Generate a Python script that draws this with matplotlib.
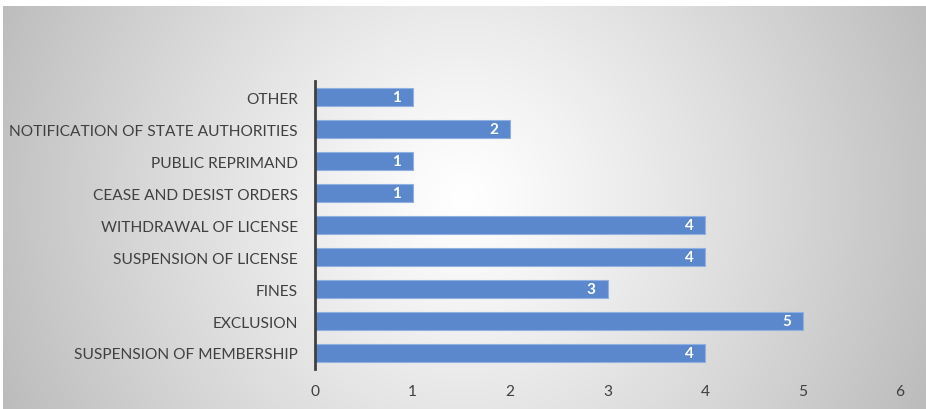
import numpy as np
import matplotlib
matplotlib.use("Agg")
import matplotlib.pyplot as plt

plt.rcParams['font.family'] = ['Lato', 'DejaVu Sans']

categories = [
    "SUSPENSION OF MEMBERSHIP",
    "EXCLUSION",
    "FINES",
    "SUSPENSION OF LICENSE",
    "WITHDRAWAL OF LICENSE",
    "CEASE AND DESIST ORDERS",
    "PUBLIC REPRIMAND",
    "NOTIFICATION OF STATE AUTHORITIES",
    "OTHER",
]
counts = [4, 5, 3, 4, 4, 1, 1, 2, 1]
x_ticks = [0, 1, 2, 3, 4, 5, 6]

W, H = 926, 410
fig = plt.figure(figsize=(W / 100, H / 100), dpi=100)
fig.patch.set_facecolor("white")

# Radial grey backdrop panel
bg = fig.add_axes([3 / W, 0, (W - 3) / W, (H - 7) / H])
bg.set_axis_off()
pw, ph = W - 3, H - 7
yy, xx = np.mgrid[0:ph, 0:pw]
r = np.sqrt((xx - 460) ** 2 + (yy - 190) ** 2) / 500.0
r = np.clip(r, 0, 1)
shade = 1.0 - 0.26 * r ** 1.15
img = np.dstack([shade, shade, shade])
bg.imshow(img, aspect="auto", interpolation="bilinear", extent=[0, 1, 0, 1])
bg.set_xlim(0, 1)
bg.set_ylim(0, 1)

ax = fig.add_axes([315 / W, 1 - 370 / H, (900 - 315) / W, 288 / H])
ax.patch.set_alpha(0)
y = np.arange(len(categories))
ax.barh(y, counts, height=0.5625, color="#5B87CD",
        edgecolor="#8FB0E0", linewidth=0.8, zorder=3)

for yi, v in zip(y, counts):
    ax.text(v - 0.12, yi, str(v), ha="right", va="center",
            color="white", fontsize=11, fontweight="bold", zorder=4)

ax.set_xlim(0, 6)
ax.set_ylim(-0.5, len(categories) - 0.5)
ax.set_xticks(x_ticks)
ax.set_xticklabels([str(t) for t in x_ticks])
ax.set_yticks(y)
ax.set_yticklabels(categories)
ax.tick_params(axis="both", length=0, colors="#404040", labelsize=11.2)
ax.tick_params(axis="y", pad=12.5)
ax.tick_params(axis="x", pad=11)
for s in ["top", "right", "bottom"]:
    ax.spines[s].set_visible(False)
ax.spines["left"].set_color("#404040")
ax.spines["left"].set_linewidth(2)
ax.spines["left"].set_zorder(5)

fig.savefig("out.png", dpi=100)
